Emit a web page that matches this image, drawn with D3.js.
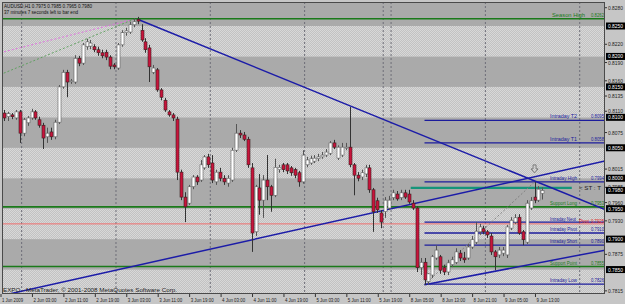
<!DOCTYPE html>
<html>
<head>
<meta charset="utf-8">
<script src="https://cdn.jsdelivr.net/npm/d3@7"></script>
<style>
  body { margin: 0; background: #c6c6c6; }
  svg { display: block; }
  text { font-family: "Liberation Sans", Arial, sans-serif; }
</style>
</head>
<body>
<svg id="chart"></svg>
<script>
// AUDUSD H1 bars (open, high, low, close)
const opens = [
  0.8107,0.8101,0.8104,0.8099,0.8109,0.8074,0.8091,0.8099,0.8109,0.8096,
  0.8087,0.8068,0.8076,0.8068,0.8092,0.8150,0.8174,0.8160,0.8158,0.8197,
  0.8189,0.8216,0.8217,0.8216,0.8211,0.8206,0.8207,0.8199,0.8186,0.8181,
  0.8219,0.8239,0.8240,0.8252,0.8261,0.8243,0.8224,0.8214,0.8174,0.8178,
  0.8145,0.8128,0.8109,0.8104,0.8097,0.8010,0.7969,0.7959,0.7986,0.8002,
  0.7997,0.8017,0.8035,0.8025,0.7994,0.8010,0.8000,0.7992,0.7997,0.8046,
  0.8074,0.8071,0.8064,0.8017,0.7912,0.7984,0.7964,0.7997,0.7986,0.7972,
  0.8014,0.8022,0.8022,0.8017,0.8014,0.8009,0.7994,0.8022,0.8025,0.8028,
  0.8032,0.8035,0.8038,0.8041,0.8058,0.8033,0.8038,0.8051,0.8051,0.8022,
  0.8005,0.8002,0.8007,0.8017,0.7981,0.7963,0.7943,0.7945,0.7951,0.7968,
  0.7974,0.7968,0.7976,0.7974,0.7959,0.7951,0.7853,0.7862,0.7830,0.7841,
  0.7869,0.7871,0.7853,0.7846,0.7858,0.7862,0.7877,0.7869,0.7869,0.7887,
  0.7895,0.7912,0.7917,0.7912,0.7905,0.7879,0.7874,0.7877,0.7874,0.7918,
  0.7928,0.7936,0.7912,0.7895,0.7951,0.7969,0.7964,0.7975
];
const highs = [
  0.8112,0.8109,0.8107,0.8112,0.8112,0.8099,0.8102,0.8114,0.8112,0.8101,
  0.8091,0.8083,0.8083,0.8096,0.8153,0.8178,0.8178,0.8163,0.8202,0.8201,
  0.8222,0.8229,0.8227,0.8220,0.8216,0.8211,0.8211,0.8202,0.8189,0.8222,
  0.8243,0.8247,0.8257,0.8263,0.8265,0.8253,0.8230,0.8219,0.8186,0.8181,
  0.8148,0.8132,0.8112,0.8107,0.8101,0.8014,0.7977,0.7989,0.8005,0.8005,
  0.8030,0.8038,0.8040,0.8038,0.8014,0.8017,0.8005,0.8005,0.8050,0.8089,
  0.8079,0.8076,0.8068,0.8025,0.7989,0.8007,0.8005,0.8038,0.7989,0.8032,
  0.8022,0.8025,0.8025,0.8020,0.8017,0.8012,0.8046,0.8035,0.8037,0.8038,
  0.8040,0.8043,0.8048,0.8061,0.8063,0.8054,0.8058,0.8058,0.8117,0.8025,
  0.8010,0.8014,0.8022,0.8022,0.7984,0.7968,0.7948,0.7969,0.7971,0.7981,
  0.7979,0.7981,0.7981,0.7981,0.7964,0.7954,0.7869,0.7869,0.7844,0.7874,
  0.7890,0.7874,0.7858,0.7866,0.7871,0.7885,0.7882,0.7879,0.7892,0.7905,
  0.7928,0.7925,0.7922,0.7915,0.7910,0.7882,0.7887,0.7887,0.7923,0.7936,
  0.7941,0.7941,0.7915,0.7964,0.7969,0.7994,0.7987,0.7985
];
const lows = [
  0.8094,0.8094,0.8097,0.8096,0.8058,0.8069,0.8086,0.8096,0.8096,0.8083,
  0.8048,0.8058,0.8063,0.8064,0.8089,0.8147,0.8133,0.8155,0.8155,0.8184,
  0.8186,0.8211,0.8212,0.8207,0.8201,0.8197,0.8194,0.8179,0.8179,0.8178,
  0.8216,0.8234,0.8237,0.8248,0.8253,0.8224,0.8206,0.8158,0.8171,0.8142,
  0.8128,0.8109,0.8101,0.8094,0.7997,0.7964,0.7928,0.7956,0.7982,0.7989,
  0.7994,0.8014,0.8017,0.7992,0.7989,0.7995,0.7989,0.7986,0.7994,0.8043,
  0.8066,0.8061,0.8017,0.7879,0.7905,0.7940,0.7935,0.7964,0.7945,0.7969,
  0.8009,0.8010,0.8007,0.8004,0.8000,0.7986,0.7991,0.8018,0.8022,0.8025,
  0.8028,0.8032,0.8035,0.8038,0.8048,0.8030,0.8035,0.8046,0.8018,0.7972,
  0.7995,0.7997,0.8002,0.7976,0.7912,0.7943,0.7918,0.7935,0.7948,0.7964,
  0.7963,0.7964,0.7966,0.7958,0.7948,0.7846,0.7841,0.7825,0.7825,0.7836,
  0.7866,0.7843,0.7841,0.7841,0.7854,0.7859,0.7864,0.7861,0.7866,0.7884,
  0.7892,0.7907,0.7908,0.7902,0.7874,0.7849,0.7869,0.7872,0.7869,0.7915,
  0.7925,0.7907,0.7890,0.7892,0.7948,0.7959,0.7961,0.7965
];
const closes = [
  0.8099,0.8106,0.8101,0.8109,0.8074,0.8096,0.8099,0.8109,0.8099,0.8087,
  0.8066,0.8074,0.8068,0.8092,0.8150,0.8174,0.8158,0.8160,0.8197,0.8189,
  0.8219,0.8224,0.8222,0.8211,0.8206,0.8201,0.8199,0.8184,0.8183,0.8219,
  0.8239,0.8242,0.8252,0.8257,0.8258,0.8227,0.8211,0.8183,0.8181,0.8145,
  0.8133,0.8112,0.8104,0.8099,0.8010,0.7969,0.7953,0.7986,0.8002,0.7994,
  0.8022,0.8035,0.8022,0.7997,0.8010,0.8000,0.7994,0.8000,0.8046,0.8074,
  0.8071,0.8064,0.8022,0.7910,0.7986,0.7964,0.7997,0.7986,0.7972,0.8018,
  0.8018,0.8014,0.8012,0.8009,0.8005,0.7994,0.8038,0.8030,0.8032,0.8033,
  0.8035,0.8038,0.8043,0.8058,0.8051,0.8051,0.8051,0.8051,0.8022,0.8005,
  0.8000,0.8009,0.8017,0.7981,0.7945,0.7948,0.7928,0.7964,0.7964,0.7976,
  0.7966,0.7976,0.7969,0.7961,0.7951,0.7853,0.7862,0.7833,0.7843,0.7871,
  0.7882,0.7849,0.7846,0.7861,0.7866,0.7879,0.7869,0.7866,0.7887,0.7899,
  0.7913,0.7920,0.7912,0.7907,0.7879,0.7871,0.7882,0.7882,0.7920,0.7931,
  0.7935,0.7910,0.7899,0.7959,0.7963,0.7964,0.7982,0.7980
];

const timeLabels = ["1 Jun 2009","2 Jun 03:00","2 Jun 11:00","2 Jun 19:00","3 Jun 03:00",
  "3 Jun 11:00","3 Jun 19:00","4 Jun 03:00","4 Jun 11:00","4 Jun 19:00","5 Jun 03:00",
  "5 Jun 11:00","5 Jun 19:00","8 Jun 05:00","8 Jun 13:00","8 Jun 21:00","9 Jun 05:00","9 Jun 13:00"];
const labelEvery = 8;
const gridBars = [5, 29, 53, 77, 97, 99, 123, 147];

const bandEdges = [0.7800,0.7850,0.7900,0.7950,0.8000,0.8050,0.8100,0.8150,0.8200,0.8250,0.8300];
const scaleTicks = [0.8280,0.8220,0.8190,0.8160,0.8135,0.8110,0.8075,0.8015,0.7985,0.7960,0.7930,0.7875,0.7815];
const roundTicks = [0.8250,0.8200,0.8150,0.8100,0.8050,0.8000,0.7950,0.7900,0.7850];

// full-width levels
const fullNames = ["Season High","Support Long","Pivot","Support  Point"];
const fullPrices = [0.8262, 0.7953, 0.7925, 0.7855];
// intraday levels, drawn from the low bar onward
const intraNames = ["Intraday  T2","Intraday  T1","Intraday High","Intraday Neut","Intraday  Pivot","Intraday  Short","Intraday  Low"];
const intraPrices = [0.8095, 0.8058, 0.7994, 0.7928, 0.7910, 0.7890, 0.7826];
const intraStart = 107;
const stLevel = 0.7984, stStart = 104, stEnd = 146;

// trend lines as [bar, price] anchors
const downTrend = [[34, 0.8261], [147, 0.7964]];
const upTrend = [[0, 0.7808], [150, 0.8024]];
const lowChannel = [[107, 0.7825], [153, 0.7882]];
const fibLine = [[107, 0.7825], [135, 0.7994]];
const fanPink = [[-1, 0.8206], [33, 0.8261]];
const fanGreen = [[-1, 0.8170], [33, 0.8261]];

class CandleChart {
  constructor(_config) {
    this.config = {
      parentElement: _config.parentElement,
      containerWidth: _config.containerWidth || 625,
      containerHeight: _config.containerHeight || 304,
      plot: { left: 2, top: 2, right: 605, bottom: 294 }
    }
    this.initVis();
  }

  initVis() {
    let vis = this;
    let p = vis.config.plot;
    vis.svg = d3.select(vis.config.parentElement)
      .attr('width', vis.config.containerWidth)
      .attr('height', vis.config.containerHeight);

    vis.x = d3.scaleLinear().domain([0, 147]).range([4, 4 + 147 * 3.93]);
    vis.y = d3.scaleLinear().domain([0.7800, 0.8250]).range([300, 26]);

    let defs = vis.svg.append('defs');
    // dithered light band like the gif
    let pat = defs.append('pattern').attr('id', 'dither')
      .attr('width', 2).attr('height', 2).attr('patternUnits', 'userSpaceOnUse');
    pat.append('rect').attr('width', 2).attr('height', 2).attr('fill', '#c2c2c2');
    pat.append('rect').attr('width', 1).attr('height', 1).attr('fill', '#d8d8d8');
    pat.append('rect').attr('x', 1).attr('y', 1).attr('width', 1).attr('height', 1).attr('fill', '#d8d8d8');
    defs.append('clipPath').attr('id', 'plotclip').append('rect')
      .attr('x', p.left).attr('y', p.top).attr('width', p.right - p.left).attr('height', p.bottom - p.top);

    vis.updateVis();
  }

  // small MT4-like text squeezed to a given width
  tinyText(g, tx, ty, str, len, color, anchor) {
    return g.append('text').attr('x', tx).attr('y', ty)
      .attr('font-size', 6).attr('fill', color)
      .attr('text-anchor', anchor || 'start')
      .attr('textLength', len).attr('lengthAdjust', 'spacingAndGlyphs')
      .text(str);
  }

  updateVis() {
    let vis = this;
    let p = vis.config.plot;
    let x = vis.x, y = vis.y;

    vis.svg.append('rect').attr('width', 625).attr('height', 304).attr('fill', '#c6c6c6');

    let plot = vis.svg.append('g').attr('clip-path', 'url(#plotclip)');

    // price bands
    let bands = d3.pairs(bandEdges);
    plot.selectAll('.band').data(bands).enter().append('rect')
      .attr('x', p.left).attr('width', p.right - p.left)
      .attr('y', d => y(d[1])).attr('height', d => y(d[0]) - y(d[1]))
      .attr('fill', (d, i) => i % 2 === 0 ? 'url(#dither)' : '#aaaaaa');

    // vertical dotted grid
    plot.selectAll('.vgrid').data(gridBars).enter().append('line')
      .attr('x1', d => x(d) - 2).attr('x2', d => x(d) - 2)
      .attr('y1', p.top).attr('y2', p.bottom)
      .attr('stroke', '#6e6e78').attr('stroke-width', 1).attr('stroke-dasharray', '2,2');

    const seg = (pts, color, w, dash) => plot.append('line')
      .attr('x1', x(pts[0][0])).attr('y1', y(pts[0][1]))
      .attr('x2', x(pts[1][0])).attr('y2', y(pts[1][1]))
      .attr('stroke', color).attr('stroke-width', w)
      .attr('stroke-dasharray', dash || null);
    const ray = (pts, color, w) => {
      let sl = (pts[1][1] - pts[0][1]) / (pts[1][0] - pts[0][0]);
      let b0 = pts[0][0], b1 = x.invert(p.right);
      return seg([[b0, pts[0][1]], [b1, pts[0][1] + sl * (b1 - b0)]], color, w);
    };
    // fan lines from the high
    seg(fanPink, '#e070e0', 1, '2,2');
    seg(fanGreen, '#60a060', 1, '2,2');

    // full-width levels
    fullPrices.forEach((v, i) => {
      plot.append('line').attr('x1', p.left).attr('x2', p.right)
        .attr('y1', y(v)).attr('y2', y(v))
        .attr('stroke', i === 2 ? '#ef6d6d' : '#1a7a1a')
        .attr('stroke-width', i === 2 ? 1 : 1.6);
    });

    // intraday levels
    intraPrices.forEach(v => {
      plot.append('line').attr('x1', x(intraStart)).attr('x2', p.right)
        .attr('y1', y(v)).attr('y2', y(v))
        .attr('stroke', '#1c1c9c').attr('stroke-width', 1.3);
    });
    plot.append('line').attr('x1', x(stStart) - 2).attr('x2', x(stEnd) - 6)
      .attr('y1', y(stLevel)).attr('y2', y(stLevel))
      .attr('stroke', '#16957a').attr('stroke-width', 2.2);

    // trend lines
    seg(fibLine, '#808080', 1, '2,2');
    let bl = x.invert(p.left);
    let upSl = (upTrend[1][1] - upTrend[0][1]) / (upTrend[1][0] - upTrend[0][0]);
    ray([[bl, upTrend[0][1] + upSl * (bl - upTrend[0][0])], upTrend[1]], '#1c1ca8', 1.5);
    ray(downTrend, '#1c1ca8', 1.5);
    ray(lowChannel, '#1c1ca8', 1.5);

    // candles
    let bars = d3.range(opens.length).map(i => ({ i: i, o: opens[i], h: highs[i], l: lows[i], c: closes[i] }));
    let cg = plot.selectAll('.candle').data(bars).enter().append('g');
    cg.append('line')
      .attr('x1', d => Math.round(x(d.i)) + 0.5).attr('x2', d => Math.round(x(d.i)) + 0.5)
      .attr('y1', d => y(d.h)).attr('y2', d => y(d.l))
      .attr('stroke', d => d.c >= d.o ? '#555' : '#333').attr('stroke-width', 1);
    cg.append('rect')
      .attr('x', d => Math.round(x(d.i)) - 1)
      .attr('width', 3)
      .attr('y', d => y(Math.max(d.o, d.c)))
      .attr('height', d => Math.max(1, Math.abs(y(d.o) - y(d.c))))
      .attr('fill', d => d.c >= d.o ? '#ffffff' : '#c8143c')
      .attr('stroke', d => d.c >= d.o ? '#606060' : '#3a2020')
      .attr('stroke-width', 0.6);

    // arrow marker above bar 135
    let ax = x(135), ay = y(highs[135]) - 17;
    plot.append('path')
      .attr('d', `M${ax - 1.5},${ay} h3 v4 h2 l-3.5,4 l-3.5,-4 h2 z`)
      .attr('fill', 'none').attr('stroke', '#6a6a6a').attr('stroke-width', 0.8);

    // level labels
    const label = (name, val, yy, color) => {
      vis.tinyText(plot, 550, yy - 2, name, 27, color);
      vis.tinyText(plot, 604, yy - 2, val.toFixed(4), 13, color, 'end');
    };
    vis.tinyText(plot, 552, y(fullPrices[0]) - 2, fullNames[0], 33, '#1a7a1a');
    vis.tinyText(plot, 604, y(fullPrices[0]) - 2, fullPrices[0].toFixed(4), 13, '#1a7a1a', 'end');
    label(fullNames[1], fullPrices[1], y(fullPrices[1]), '#1a7a1a');
    label(fullNames[3], fullPrices[3], y(fullPrices[3]), '#1a7a1a');
    intraPrices.forEach((v, i) => {
      if (i === 3) {
        vis.tinyText(plot, 550, y(v) - 1, intraNames[i], 26, '#1c1c9c');
      } else {
        label(intraNames[i], v, y(v), '#1c1c9c');
      }
    });
    vis.tinyText(plot, 579, y(fullPrices[2]) - 1, fullNames[2], 10, '#e02020');
    vis.tinyText(plot, 604, y(fullPrices[2]) - 1, fullPrices[2].toFixed(4), 13, '#e02020', 'end');
    vis.tinyText(plot, 579, y(stLevel) + 2.5, '<   ST : T', 22, '#222');

    // header and footer text
    vis.tinyText(plot, 4, 8, 'AUDUSD,H1  0.7975 0.7985 0.7965 0.7980', 88, '#111');
    vis.tinyText(plot, 4, 14, '37 minutes 7 seconds left to bar end', 74, '#111');
    vis.tinyText(plot, 3, 292, 'EXPO - MetaTrader, \u00a9 2001-2008 MetaQuotes Software Corp.', 174, '#222');

    // frame
    vis.svg.append('rect').attr('x', p.left + 0.5).attr('y', p.top + 0.5)
      .attr('width', p.right - p.left - 1).attr('height', p.bottom - p.top - 1)
      .attr('fill', 'none').attr('stroke', '#4a4a4a').attr('stroke-width', 1);

    // price scale
    let axis = vis.svg.append('g');
    scaleTicks.forEach(d => {
      axis.append('line').attr('x1', 605).attr('x2', 607).attr('y1', y(d)).attr('y2', y(d)).attr('stroke', '#333');
      vis.tinyText(axis, 608, y(d) + 2, d.toFixed(4), 15, '#222');
    });
    let bid = closes[closes.length - 1];
    roundTicks.concat([bid]).forEach(d => {
      axis.append('rect').attr('x', 606).attr('y', y(d) - 3.5).attr('width', 19).attr('height', 7).attr('fill', '#000');
      vis.tinyText(axis, 608, y(d) + 2, d.toFixed(4), 15, '#fff');
    });

    // time scale
    let tl = vis.svg.append('g');
    timeLabels.forEach((t, k) => {
      let tx = x(k * labelEvery) - 3;
      tl.append('line').attr('x1', tx).attr('x2', tx).attr('y1', p.bottom).attr('y2', p.bottom + 3).attr('stroke', '#333');
      vis.tinyText(tl, tx + 1, 302, t, k === 0 ? 21 : 23, '#222');
    });
  }
}

new CandleChart({ parentElement: '#chart' });
</script>
</body>
</html>
